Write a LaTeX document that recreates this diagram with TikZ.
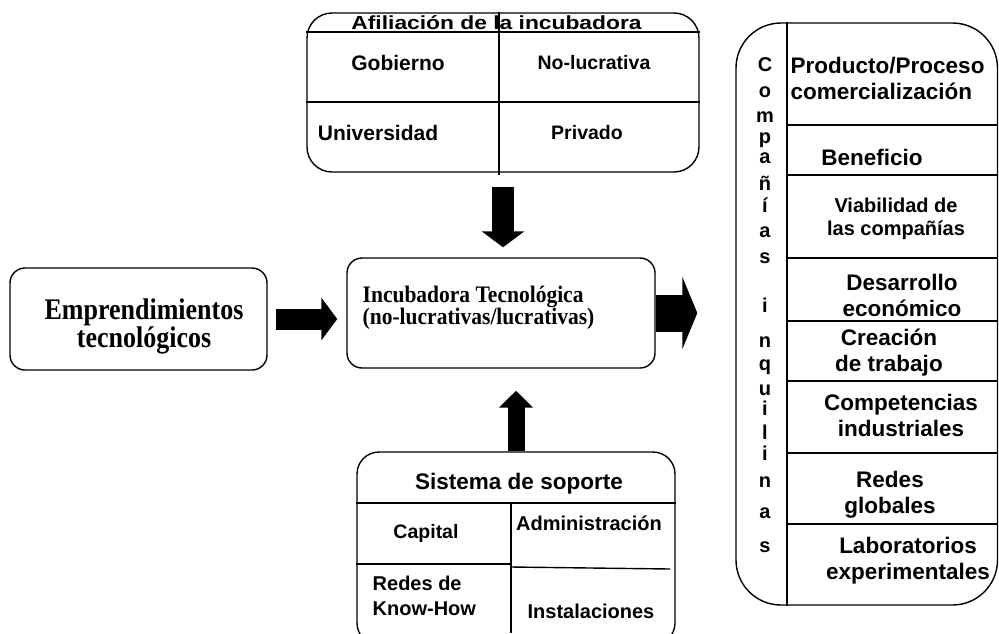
\documentclass[tikz,border=0pt]{standalone}
\usepackage{fontspec}
\setmainfont{Liberation Sans}
\newfontfamily\romanfont{Liberation Serif}
\usetikzlibrary{arrows.meta,positioning}

\begin{document}
\begin{tikzpicture}[x=1pt, y=-1pt, line width=1.4pt,
    caja/.style={draw, rounded corners=#1, inner sep=0pt},
    caja/.default=15pt,
    lbl/.style={inner sep=0pt, align=center, font=\bfseries\fontsize{#1}{26}\selectfont},
    lbl/.default=22.5,
    flecha/.style n args={3}{line width=#1, -{Triangle[length=#3, width=#2]}}
]
\useasboundingbox (0,0) rectangle (999,633);
\clip (0,0) rectangle (999,633);

% Boxes
\node[caja, minimum width=257pt, minimum height=102pt] (emp) at (138.5,319) {};
\node[caja, minimum width=308pt, minimum height=110pt] (incub) at (501,313) {};
\node[caja=25pt, minimum width=392pt, minimum height=159pt] (afil) at (503,92.5) {};
\node[caja=22pt, minimum width=318pt, minimum height=193pt] (soporte) at (516,548.5) {};
\node[caja=45pt, minimum width=261.5pt, minimum height=582pt] (comp) at (866.75,314) {};

% Afiliacion de la incubadora
\draw (afil.west |- 0,32) -- (afil.east |- 0,32);
\draw (afil.west |- 0,102) -- (afil.east |- 0,102);
\draw (499,0 |- afil.north) -- (499,175);
\node[lbl=19] (titAfil) at (496.5,23) {\scalebox{1.2}[1]{Afiliación de la incubadora}};
\node[lbl=21] (gob) at (398,63) {Gobierno};
\node[lbl=19.5] (nolucr) at (594,63) {No-lucrativa};
\node[lbl=21] (univ) at (378,133) {Universidad};
\node[lbl=19.5] (priv) at (587,133) {Privado};

% Emprendimientos / Incubadora
\node[inner sep=0pt, align=center, font=\romanfont\bfseries\fontsize{26}{27}\selectfont]
    (empT) at (144,326.5) {\scalebox{1}[1.15]{Emprendimientos}\\\scalebox{1}[1.15]{tecnológicos}};
\node[inner sep=0pt, align=left, anchor=west, font=\romanfont\bfseries\fontsize{21.5}{22}\selectfont]
    (incubT) at (362,307.5) {\scalebox{1}[1.1]{Incubadora Tecnológica}\\\scalebox{1}[1.1]{(no-lucrativas/lucrativas)}};

% Sistema de soporte
\draw (soporte.west |- 0,503) -- (soporte.east |- 0,503);
\draw (511,503) -- (511,633);
\draw (soporte.west |- 0,564) -- (511,564);
\draw (511,567) -- (670,569);
\node[lbl] (titSop) at (519,484) {Sistema de soporte};
\node[lbl=19.5] (capital) at (426,533) {Capital};
\node[lbl=20] (admin) at (589,523) {Administración};
\node[lbl=20, align=left, font=\bfseries\fontsize{20}{25}\selectfont] (redesKH) at (372,595.5) [anchor=west] {Redes de\\Know-How};
\node[lbl=20] (instal) at (591,611) {Instalaciones};

% Companias inquilinas
\draw (787,0 |- comp.north) -- (787,0 |- comp.south);
\foreach \y in {125,175,258,321,381,453,524}
  \draw (787,\y) -- (comp.east |- 0,\y);
\foreach \letra/\y in {C/65, o/92, m/117, p/140, a/158, ñ/183, í/205, a/232, s/258,
    i/305, n/342, q/367, u/390, i/408, l/432, i/453, n/482, a/513, s/547}
  \node[lbl=20] (let\y) at (765,\y) {\letra};

\node[lbl, align=left, anchor=west] (prod) at (790,78.5) {Producto/Proceso\\comercialización};
\node[lbl] (benef) at (872,157) {Beneficio};
\node[lbl=20, font=\bfseries\fontsize{20}{23}\selectfont] (viab) at (896,218.5) {Viabilidad de\\las compañías};
\node[lbl] (desarr) at (902,295.5) {Desarrollo\\económico};
\node[lbl] (creac) at (889,352.5) {Creación\\de trabajo};
\node[lbl] (compet) at (901,415) {Competencias\\industriales};
\node[lbl] (redes) at (890,495) {Redes\\globales};
\node[lbl] (labs) at (908,561) {Laboratorios\\experimentales};

% Block arrows
\draw[flecha={22pt}{42pt}{16pt}, shorten <=14pt, shorten >=10pt] (afil.south) -- (afil.south |- incub.north);
\draw[flecha={17pt}{33pt}{17pt}, shorten >=22pt] (soporte.north) -- (soporte.north |- incub.south);
\draw[flecha={21pt}{42pt}{16pt}, shorten <=8pt, shorten >=9pt] (emp.east) -- (emp.east -| incub.west);
\draw[flecha={37pt}{72pt}{15pt}, shorten >=38pt] (incub.east) -- (incub.east -| comp.west);

\end{tikzpicture}
\end{document}
